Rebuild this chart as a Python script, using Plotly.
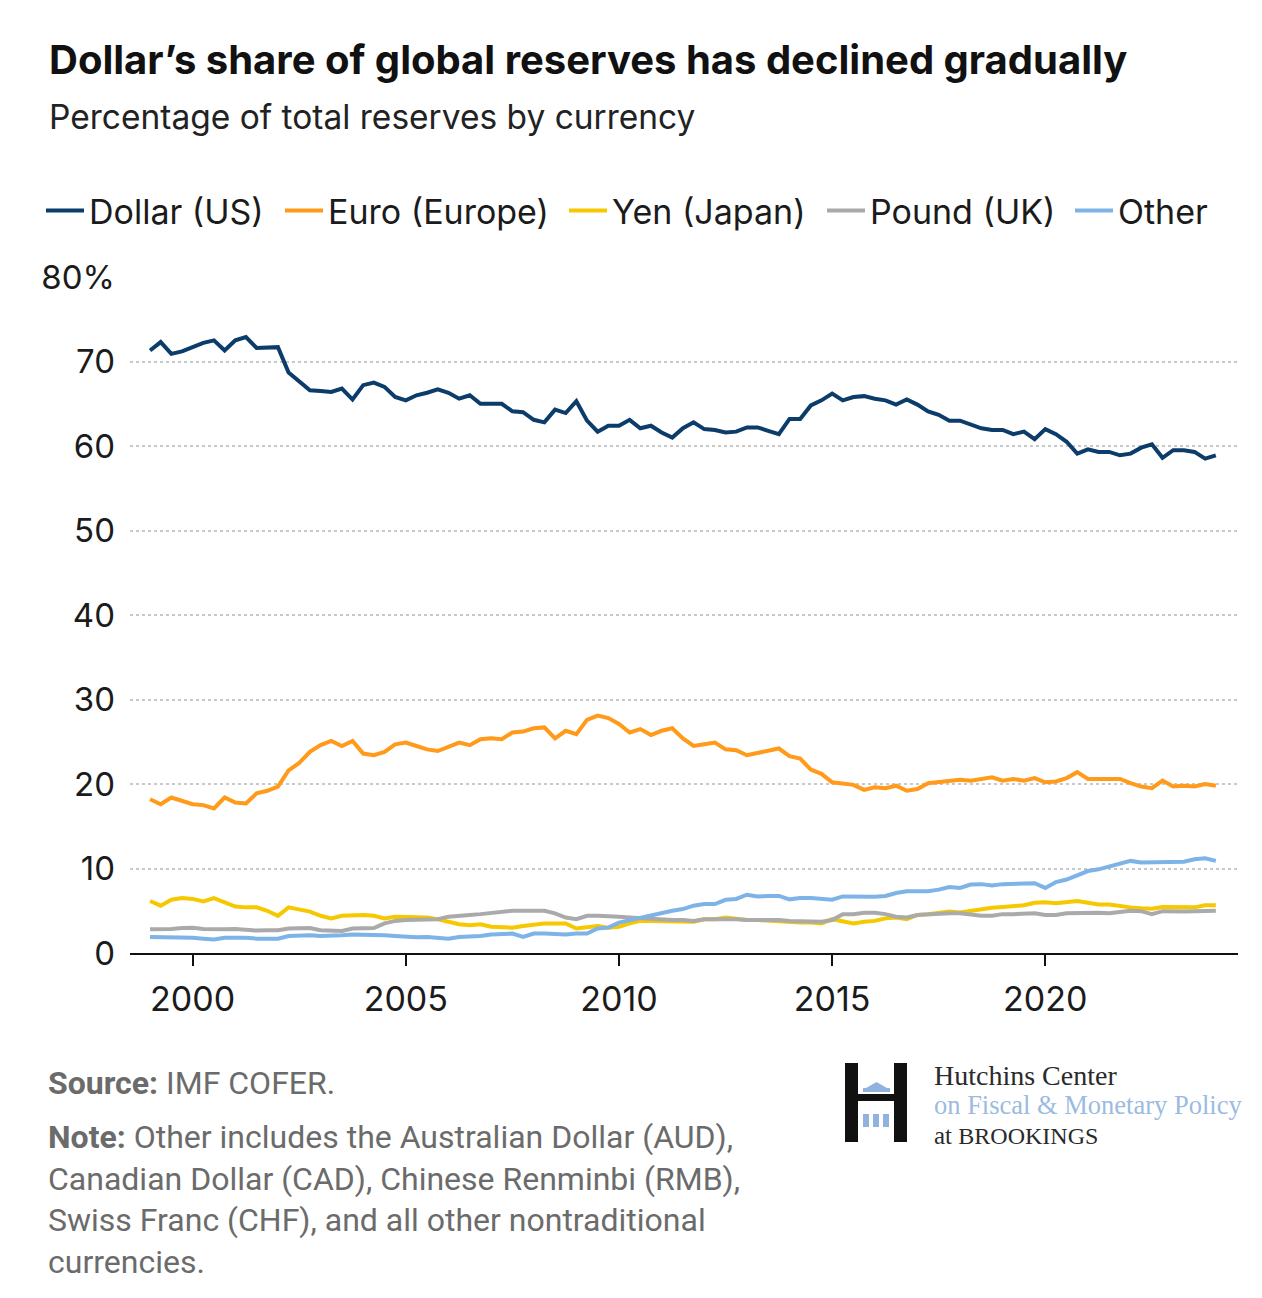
import plotly.graph_objects as go

# Quarterly data, 1999Q1 .. 2024Q1 (101 quarters)
start_year = 1999
n_quarters = 101
years = [start_year + q * 0.25 for q in range(n_quarters)]

dollar = [71.3, 72.3, 70.9, 71.2, 71.7, 72.2, 72.5, 71.3, 72.5, 72.9,
          71.6, 71.7, 71.7, 68.7, 67.6, 66.6, 66.5, 66.4, 66.8, 65.5,
          67.2, 67.5, 67.0, 65.8, 65.4, 66.0, 66.3, 66.7, 66.3, 65.6,
          66.0, 65.0, 65.0, 65.0, 64.1, 64.0, 63.1, 62.8, 64.3, 63.9,
          65.3, 63.0, 61.7, 62.4, 62.4, 63.1, 62.1, 62.4, 61.6, 61.0,
          62.1, 62.8, 62.0, 61.9, 61.6, 61.7, 62.2, 62.2, 61.8, 61.4,
          63.2, 63.2, 64.8, 65.4, 66.2, 65.4, 65.8, 65.9, 65.6, 65.4,
          64.9, 65.5, 64.9, 64.1, 63.7, 63.0, 63.0, 62.6, 62.1, 61.9,
          61.9, 61.4, 61.7, 60.8, 62.0, 61.4, 60.5, 59.1, 59.6, 59.3,
          59.3, 58.9, 59.1, 59.8, 60.2, 58.6, 59.5, 59.5, 59.3, 58.5,
          58.9]

euro = [18.2, 17.6, 18.4, 18.0, 17.6, 17.5, 17.1, 18.4, 17.8, 17.7,
        18.9, 19.2, 19.7, 21.6, 22.5, 23.8, 24.6, 25.1, 24.5, 25.1,
        23.6, 23.4, 23.8, 24.7, 24.9, 24.5, 24.1, 23.9, 24.4, 24.9,
        24.6, 25.3, 25.4, 25.3, 26.1, 26.2, 26.6, 26.7, 25.4, 26.3,
        25.9, 27.6, 28.1, 27.8, 27.1, 26.1, 26.5, 25.8, 26.3, 26.6,
        25.4, 24.5, 24.7, 24.9, 24.1, 24.0, 23.4, 23.7, 24.0, 24.2,
        23.3, 23.0, 21.7, 21.2, 20.2, 20.0, 19.9, 19.3, 19.6, 19.5,
        19.8, 19.2, 19.4, 20.1, 20.2, 20.3, 20.5, 20.4, 20.6, 20.8,
        20.4, 20.6, 20.4, 20.7, 20.2, 20.3, 20.7, 21.4, 20.6, 20.6,
        20.6, 20.6, 20.1, 19.7, 19.5, 20.4, 19.7, 19.8, 19.7, 20.0,
        19.8]

yen = [6.15, 5.6, 6.3, 6.5, 6.4, 6.1, 6.5, 6.0, 5.5, 5.4,
       5.4, 5.0, 4.4, 5.4, 5.2, 4.9, 4.4, 4.1, 4.4, 4.5,
       4.5, 4.4, 4.1, 4.3, 4.3, 4.2, 4.2, 4.0, 3.7, 3.4,
       3.3, 3.4, 3.1, 3.1, 3.0, 3.2, 3.4, 3.5, 3.5, 3.5,
       2.9, 3.1, 3.2, 3.0, 3.1, 3.5, 3.8, 3.8, 3.8, 3.8,
       3.7, 3.7, 4.0, 4.0, 4.2, 4.0, 3.9, 3.9, 3.8, 3.7,
       3.6, 3.6, 3.6, 3.5, 4.0, 3.7, 3.5, 3.7, 3.8, 4.1,
       4.2, 4.0, 4.5, 4.6, 4.7, 4.9, 4.8, 5.0, 5.2, 5.35,
       5.45, 5.55, 5.65, 5.95, 6.0, 5.9, 6.0, 6.15, 5.95, 5.75,
       5.75, 5.55, 5.4, 5.3, 5.25, 5.45, 5.4, 5.35, 5.4, 5.65,
       5.65]

pound = [2.8, 2.8, 2.85, 2.95, 3.0, 2.85, 2.8, 2.8, 2.85, 2.7,
         2.65, 2.7, 2.7, 2.9, 2.95, 2.95, 2.7, 2.65, 2.6, 2.9,
         2.9, 2.95, 3.5, 3.8, 3.9, 3.9, 3.9, 4.0, 4.3, 4.35,
         4.5, 4.6, 4.75, 4.9, 5.0, 5.0, 5.0, 5.0, 4.7, 4.2,
         4.0, 4.4, 4.4, 4.4, 4.3, 4.2, 4.1, 4.0, 4.0, 3.9,
         3.9, 3.8, 4.0, 4.0, 4.1, 4.0, 3.9, 3.9, 4.0, 3.9,
         3.8, 3.8, 3.8, 3.7, 3.9, 4.6, 4.6, 4.75, 4.75, 4.6,
         4.3, 4.2, 4.5, 4.6, 4.7, 4.7, 4.7, 4.5, 4.4, 4.4,
         4.6, 4.6, 4.6, 4.7, 4.5, 4.5, 4.7, 4.75, 4.75, 4.75,
         4.7, 4.9, 5.0, 4.95, 4.6, 4.95, 4.9, 4.9, 4.95, 5.0,
         5.0]

other = [1.9, 1.9, 1.9, 1.85, 1.8, 1.7, 1.6, 1.8, 1.85, 1.8,
         1.7, 1.7, 1.7, 2.0, 2.1, 2.1, 2.0, 2.0, 2.1, 2.2,
         2.2, 2.15, 2.1, 2.0, 1.9, 1.85, 1.9, 1.85, 1.7, 1.9,
         1.9, 2.0, 2.2, 2.2, 2.3, 1.9, 2.3, 2.3, 2.2, 2.2,
         2.3, 2.3, 2.9, 3.0, 3.6, 3.9, 4.2, 4.5, 4.8, 5.0,
         5.2, 5.6, 5.8, 5.8, 6.3, 6.4, 6.9, 6.7, 6.75, 6.75,
         6.35, 6.5, 6.5, 6.4, 6.3, 6.7, 6.65, 6.65, 6.65, 6.75,
         7.1, 7.3, 7.3, 7.3, 7.5, 7.8, 7.7, 8.1, 8.15, 8.0,
         8.15, 8.15, 8.15, 8.25, 7.7, 8.4, 8.7, 9.2, 9.7, 9.9,
         10.2, 10.5, 10.9, 10.7, 10.7, 10.7, 10.8, 10.8, 11.1, 11.2,
         10.9]

series_names = ["Dollar (US)", "Euro (Europe)", "Yen (Japan)", "Pound (UK)", "Other"]
series_values = [dollar, euro, yen, pound, other]
series_colors = ["#0b3c6a", "#ff9a1a", "#f5c800", "#aaaaaa", "#7db3e6"]

y_tickvals = [0, 10, 20, 30, 40, 50, 60, 70, 80]
y_ticktext = ["0", "10", "20", "30", "40", "50", "60", "70", "80%"]
x_tickvals = [2000, 2005, 2010, 2015, 2020]
x_ticktext = ["2000", "2005", "2010", "2015", "2020"]

W, H = 1262, 1298
L, R, T, B = 130, 24, 277, 345
PW, PH = W - L - R, H - T - B

def px(xp):
    return (xp - L) / PW

def py(yp):
    return (H - B - yp) / PH

# one legend box per series so each entry sits where the reference puts it
legend_ids = ["legend", "legend2", "legend3", "legend4", "legend5"]
legend_left_px = [41, 280, 564, 822, 1070]

fig = go.Figure()
for name, vals, col, lid in zip(series_names, series_values, series_colors, legend_ids):
    fig.add_trace(go.Scatter(x=years, y=vals, name=name, mode="lines",
                             line=dict(color=col, width=4), legend=lid,
                             hoverinfo="skip"))

TXT = "#1b1b1b"
layout_legends = {}
for lid, lx in zip(legend_ids, legend_left_px):
    layout_legends[lid] = dict(orientation="h", x=px(lx), xanchor="left",
                               y=py(211), yanchor="middle",
                               font=dict(size=34, color=TXT, family="Inter, sans-serif"),
                               itemwidth=38, bgcolor="rgba(0,0,0,0)")

fig.update_layout(
    width=W, height=H,
    margin=dict(l=L, r=R, t=T, b=B, pad=0),
    paper_bgcolor="white", plot_bgcolor="white",
    font=dict(family="Inter, Roboto, sans-serif", color=TXT, size=30),
    showlegend=True,
    xaxis=dict(range=[1998.53, 2024.52], tickvals=x_tickvals, ticktext=x_ticktext,
               showgrid=False, zeroline=False, showline=True, linecolor="#111",
               linewidth=2, ticks="outside", ticklen=11, tickwidth=2, tickcolor="#111",
               tickfont=dict(size=34, color=TXT), ticklabelstandoff=4, fixedrange=True),
    yaxis=dict(range=[0, 80], tickvals=y_tickvals, ticktext=y_ticktext,
               showgrid=True, gridcolor="#c8c8c8", gridwidth=1.5, griddash="dot",
               zeroline=False, showline=False, ticks="",
               tickfont=dict(size=33, color=TXT), ticklabelstandoff=14, fixedrange=True),
    **layout_legends,
)

annotations = [
    dict(text="<b>Dollar’s share of global reserves has declined gradually</b>",
         x=px(47), y=py(59), xref="paper", yref="paper", xanchor="left", yanchor="middle",
         showarrow=False, font=dict(size=40, color="#111", family="Inter, sans-serif")),
    dict(text="Percentage of total reserves by currency",
         x=px(47), y=py(117), xref="paper", yref="paper", xanchor="left", yanchor="middle",
         showarrow=False, font=dict(size=33.5, color="#222", family="Inter, sans-serif")),
    dict(text="<b>Source:</b> IMF COFER.",
         x=px(46), y=py(1083), xref="paper", yref="paper", xanchor="left", yanchor="middle",
         showarrow=False, font=dict(size=32, color="#6b6b6b", family="Roboto, sans-serif")),
    dict(text="<b>Note:</b> Other includes the Australian Dollar (AUD),<br>"
              "Canadian Dollar (CAD), Chinese Renminbi (RMB),<br>"
              "Swiss Franc (CHF), and all other nontraditional<br>currencies.",
         x=px(46), y=py(1199), xref="paper", yref="paper", xanchor="left", yanchor="middle",
         align="left", showarrow=False,
         font=dict(size=32, color="#6b6b6b", family="Roboto, sans-serif")),
    dict(text="Hutchins Center", x=px(932), y=py(1075), xref="paper", yref="paper",
         xanchor="left", yanchor="middle", showarrow=False,
         font=dict(size=28, color="#2a2a2a", family="Liberation Serif, serif")),
    dict(text="on Fiscal &amp; Monetary Policy", x=px(932), y=py(1105), xref="paper", yref="paper",
         xanchor="left", yanchor="middle", showarrow=False,
         font=dict(size=26.5, color="#9bbbe0", family="Liberation Serif, serif")),
    dict(text="at <span style='font-size:24px'>BROOKINGS</span>", x=px(932), y=py(1135),
         xref="paper", yref="paper", xanchor="left", yanchor="middle", showarrow=False,
         font=dict(size=25, color="#2a2a2a", family="Liberation Serif, serif")),
]

shapes = []
def rect(x0, y0, x1, y1, color):
    shapes.append(dict(type="rect", xref="paper", yref="paper",
                       x0=px(x0), x1=px(x1), y0=py(y1), y1=py(y0),
                       fillcolor=color, line=dict(width=0), layer="above"))

rect(845, 1063, 858, 1142, "#111111")
rect(894, 1063, 907, 1142, "#111111")
rect(858, 1094, 894, 1101, "#111111")
rect(863, 1088, 890, 1092, "#8fb3dc")
shapes.append(dict(type="path", xref="paper", yref="paper",
                   path=f"M {px(866)},{py(1088)} L {px(876.5)},{py(1082)} L {px(887)},{py(1088)} Z",
                   fillcolor="#8fb3dc", line=dict(width=0), layer="above"))
rect(863, 1114, 869, 1127, "#8fb3dc")
rect(873, 1114, 879, 1127, "#8fb3dc")
rect(883, 1114, 889, 1127, "#8fb3dc")

fig.update_layout(annotations=annotations, shapes=shapes)

fig.write_html("out.html", config={"displayModeBar": False},
               post_script="document.body.style.margin='0';")
